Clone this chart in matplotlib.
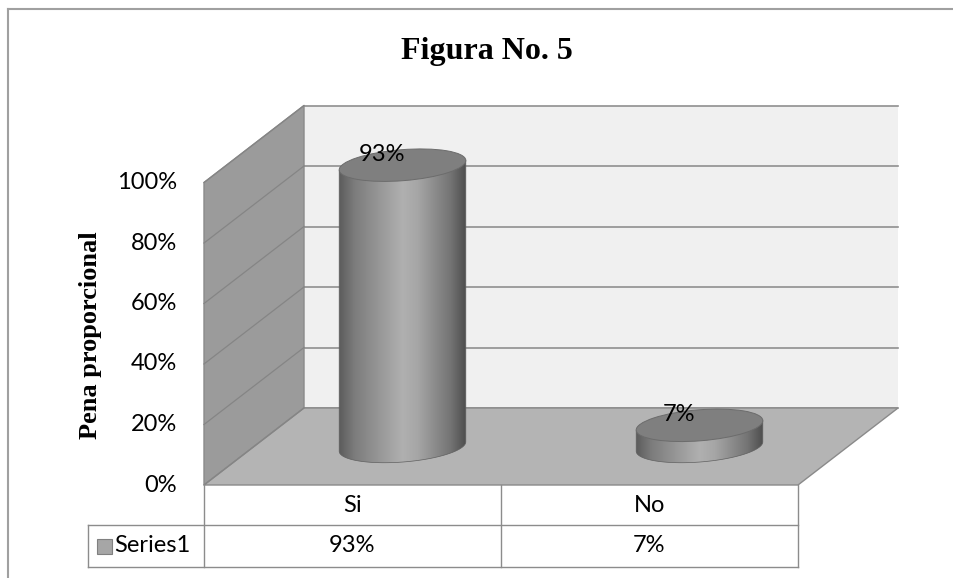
import numpy as np
import matplotlib.pyplot as plt
from matplotlib.patches import Polygon, Ellipse, PathPatch, Rectangle
from matplotlib.path import Path
from matplotlib.colors import LinearSegmentedColormap

categories = ['Si', 'No']
values = [0.93, 0.07]
value_labels = ['93%', '7%']
series_name = 'Series1'
yticks = [0.0, 0.2, 0.4, 0.6, 0.8, 1.0]
ytick_labels = ['0%', '20%', '40%', '60%', '80%', '100%']

W, H = 954, 578
fig = plt.figure(figsize=(W / 100, H / 100), dpi=100)
ax = fig.add_axes([0, 0, 1, 1])
ax.axis('off')

sans = ['Lato', 'DejaVu Sans']
serif = ['Liberation Serif', 'DejaVu Serif']
fs = 17

# simple oblique projection: (category pos, value, depth) -> pixel coords
X0, Y0, COLW, VH, DX, DY = 204, 485, 297, 302.5, 100, 77
def proj(c, v, d=0.0):
    return X0 + c * COLW + d * DX, Y0 - v * VH - d * DY

n = len(categories)
grid_c = '#8f8f8f'

# walls and floor
back = [proj(0, 0, 1), proj(n, 0, 1), proj(n, 1, 1), proj(0, 1, 1)]
side = [proj(0, 0, 0), proj(0, 0, 1), proj(0, 1, 1), proj(0, 1, 0)]
floor = [proj(0, 0, 0), proj(n, 0, 0), proj(n, 0, 1), proj(0, 0, 1)]
ax.add_patch(Polygon(back, closed=True, fc='#f0f0f0', ec='none', zorder=1))
ax.add_patch(Polygon(side, closed=True, fc='#9b9b9b', ec='#8a8a8a', lw=1, zorder=2))
ax.add_patch(Polygon(floor, closed=True, fc='#b4b4b4', ec='#8a8a8a', lw=1, zorder=2))

for v, lab in zip(yticks, ytick_labels):
    (xa, ya), (xb, yb) = proj(0, v, 1), proj(n, v, 1)
    ax.plot([xa, xb], [ya, yb], color=grid_c, lw=1.2, zorder=1.5)
    (xa, ya), (xb, yb) = proj(0, v, 0), proj(0, v, 1)
    ax.plot([xa, xb], [ya, yb], color='#858585', lw=0.9, zorder=2.5)
    ax.text(xa - 27, ya, lab, ha='right', va='center', fontsize=fs, family=sans)

# cylinders
cmap = LinearSegmentedColormap.from_list('cyl', [
    (0.0, '#5c5c5c'), (0.12, '#7c7c7c'), (0.5, '#b0b0b0'),
    (0.62, '#a6a6a6'), (0.88, '#747474'), (1.0, '#4e4e4e')])
grad = np.linspace(0, 1, 256).reshape(1, -1)
a, b, ang = 63.5, 15.5, np.deg2rad(-4.5)
ca, sa = np.cos(ang), np.sin(ang)

for i, (v, lab) in enumerate(zip(values, value_labels)):
    cx, cyt = proj(i + 0.5, v, 0.5)
    _, cyb = proj(i + 0.5, 0, 0.5)
    t = np.linspace(0, np.pi, 60)
    arc_x = cx + a * np.cos(t) * ca - b * np.sin(t) * sa
    arc_y = cyb + a * np.cos(t) * sa + b * np.sin(t) * ca
    xs = [cx + a * ca] + list(arc_x) + [cx - a * ca]
    ys = [cyt + a * sa] + list(arc_y) + [cyt - a * sa]
    body = PathPatch(Path(np.column_stack([xs, ys]), closed=False),
                     fc='none', ec='#606060', lw=0.5, zorder=4)
    clip = Polygon(np.column_stack([xs, ys]), closed=True, transform=ax.transData)
    im = ax.imshow(grad, cmap=cmap, aspect='auto', zorder=3.5,
                   extent=[cx - a, cx + a, max(ys) + 2, min(ys) - 2])
    im.set_clip_path(clip)
    ax.add_patch(body)
    ax.add_patch(Ellipse((cx, cyt), 2 * a, 2 * b, angle=np.rad2deg(ang),
                         fc='#7f7f7f', ec='#6c6c6c', lw=0.7, zorder=5))
    ax.text(cx - 20, cyt - 11, lab, ha='center', va='center', fontsize=fs,
            family=sans, zorder=6)

# data table
tc = '#8c8c8c'
r0, r1, r2, xh = 485, 525, 567, 88
xr = proj(n, 0, 0)[0]
ax.plot([xh, xr], [r1, r1], color=tc, lw=1, zorder=3)
ax.plot([xh, xr], [r2, r2], color=tc, lw=1, zorder=3)
ax.plot([xh, xh], [r1, r2], color=tc, lw=1, zorder=3)
for k in range(n + 1):
    xk = proj(k, 0, 0)[0]
    ax.plot([xk, xk], [r0, r2], color=tc, lw=1, zorder=3)
for i, (cat, lab) in enumerate(zip(categories, value_labels)):
    xc = proj(i + 0.5, 0, 0)[0]
    ax.text(xc, (r0 + r1) / 2, cat, ha='center', va='center', fontsize=fs, family=sans)
    ax.text(xc, (r1 + r2) / 2, lab, ha='center', va='center', fontsize=fs, family=sans)
ax.add_patch(Rectangle((97, 539), 15, 15, fc='#a6a6a6', ec='#808080', lw=0.8, zorder=3))
ax.text(114, (r1 + r2) / 2, series_name, ha='left', va='center', fontsize=fs, family=sans)

# titles
ax.text(487, 59, 'Figura No. 5', ha='center', va='baseline', fontsize=23,
        fontweight='bold', family=serif)
ax.text(91, 335, 'Pena proporcional', ha='center', va='center', rotation=90,
        fontsize=19, fontweight='bold', family=serif)

# outer chart border (left and top visible)
ax.plot([8, 8], [9, H], color='#a0a0a0', lw=1.5)
ax.plot([8, W], [9, 9], color='#a0a0a0', lw=1.5)

ax.set_xlim(0, W)
ax.set_ylim(H, 0)
fig.savefig('out.png', dpi=100)
